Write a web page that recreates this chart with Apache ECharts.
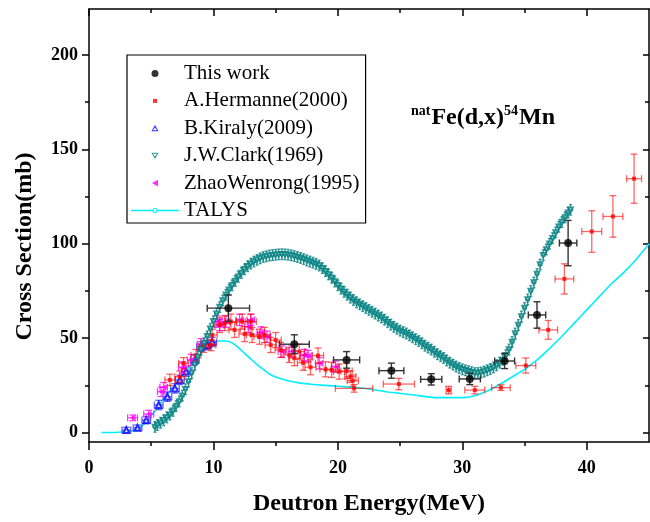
<!DOCTYPE html>
<html><head><meta charset="utf-8">
<script src="https://cdn.jsdelivr.net/npm/echarts@6/dist/echarts.min.js"></script>
<style>html,body{margin:0;padding:0;background:#fff}#c{width:650px;height:522px}</style>
</head><body><div id="c"></div>
<script>
// ---- This work ----
const thisX  = [11.2, 16.5, 20.7, 24.3, 27.5, 30.6, 33.4, 36.0, 38.5];
const thisY  = [65.9, 46.8, 38.5, 32.8, 28.2, 28.4, 37.9, 62.3, 100.4];
const thisXe = [1.7, 1.2, 1.05, 1.0, 0.85, 0.85, 0.8, 0.7, 0.7];
const thisYe = [7, 5, 4.4, 4, 3, 3, 4, 7, 12];
// ---- A.Hermanne(2000) ----
const herX  = [6.5, 7.3, 7.6, 8.6, 9.2, 9.8, 9.9, 10.5, 10.9, 11.4, 11.7, 12.3, 12.5, 13.0, 13.1, 13.7, 14.1, 14.6, 15.0, 15.4, 16.1, 16.5, 16.9, 17.2, 17.8, 18.4, 19.0, 19.5, 20.1, 20.7, 21.0, 21.2, 21.3, 24.9, 28.9, 31.0, 33.1, 35.1, 36.9, 38.2, 40.4, 42.1, 43.8];
const herY  = [27.9, 29.6, 36.7, 41.0, 45.5, 46.4, 51.7, 57.0, 58.0, 58.8, 54.4, 58.8, 52.2, 58.8, 51.7, 50.8, 51.7, 46.4, 49.0, 43.8, 41.1, 39.4, 42.9, 37.0, 34.6, 40.8, 33.5, 33.2, 32.3, 32.6, 29.6, 27.5, 23.4, 25.7, 22.5, 22.5, 23.8, 35.5, 54.4, 81.4, 106.5, 114.5, 134.5];
const herXe = [0.4, 0.4, 0.4, 0.4, 0.4, 0.4, 0.4, 0.45, 0.45, 0.45, 0.45, 0.45, 0.45, 0.45, 0.45, 0.45, 0.45, 0.45, 0.45, 0.45, 0.45, 0.45, 0.45, 0.45, 0.45, 0.45, 0.45, 0.45, 0.45, 0.45, 0.45, 0.45, 1.5, 1.25, 0.2, 0.8, 0.75, 0.8, 0.75, 0.75, 0.8, 0.8, 0.6];
const herYe = [3, 3, 3, 3, 3, 3, 3, 4, 4, 4, 4, 4, 4, 4, 4, 4, 4, 4, 4, 4, 4, 4, 4, 4, 4, 4, 4, 4, 4, 4, 3, 3, 2, 3, 2, 2, 1.5, 4, 5, 8, 11, 11, 13];
// ---- B.Kiraly(2009) ----
const kirX  = [3.0, 3.9, 4.6, 5.6, 6.3, 6.9, 7.3, 7.8, 8.5, 9.0, 9.5, 9.9];
const kirY  = [1.3, 2.5, 6.6, 14.6, 19.0, 23.4, 27.9, 32.3, 38.5, 45.5, 46.4, 48.0];
const kirXe = [0.35, 0.35, 0.35, 0.35, 0.35, 0.35, 0.35, 0.35, 0.35, 0.35, 0.35, 0.35];
const kirYe = [1.5, 1.5, 2, 2.5, 2.5, 2.5, 2.5, 2.5, 2.5, 2.5, 2.5, 2.5];
// ---- J.W.Clark(1969) ----
const clkX = [5.3, 5.5, 5.75, 6.0, 6.25, 6.5, 6.75, 7.0, 7.25, 7.5, 7.75, 8.0, 8.25, 8.5, 8.75, 9.0, 9.25, 9.5, 9.75, 10.0, 10.25, 10.5, 10.75, 11.0, 11.25, 11.5, 11.75, 12.0, 12.25, 12.5, 12.75, 13.0, 13.25, 13.5, 13.75, 14.0, 14.25, 14.5, 14.75, 15.0, 15.25, 15.5, 15.75, 16.0, 16.25, 16.5, 16.75, 17.0, 17.25, 17.5, 17.75, 18.0, 18.25, 18.5, 18.75, 19.0, 19.25, 19.5, 19.75, 20.0, 20.25, 20.5, 20.75, 21.0, 21.25, 21.5, 21.75, 22.0, 22.25, 22.5, 22.75, 23.0, 23.25, 23.5, 23.75, 24.0, 24.25, 24.5, 24.75, 25.0, 25.25, 25.5, 25.75, 26.0, 26.25, 26.5, 26.75, 27.0, 27.25, 27.5, 27.75, 28.0, 28.25, 28.5, 28.75, 29.0, 29.25, 29.5, 29.75, 30.0, 30.25, 30.5, 30.75, 31.0, 31.25, 31.5, 31.75, 32.0, 32.25, 32.5, 32.75, 33.0, 33.25, 33.5, 33.75, 34.0, 34.25, 34.5, 34.75, 35.0, 35.25, 35.5, 35.75, 36.0, 36.25, 36.5, 36.75, 37.0, 37.25, 37.5, 37.75, 38.0, 38.25, 38.5, 38.7];
const clkY = [3.0, 4.0, 5.2, 6.5, 8.0, 9.5, 11.5, 14.0, 16.5, 19.5, 23.0, 27.0, 31.5, 36.0, 40.0, 44.0, 47.5, 51.0, 55.0, 59.0, 63.0, 66.5, 70.0, 73.0, 75.7, 78.0, 80.3, 82.5, 84.6, 86.5, 88.1, 89.5, 90.6, 91.5, 92.3, 93.0, 93.4, 93.8, 94.0, 94.2, 94.4, 94.5, 94.4, 94.2, 93.9, 93.5, 93.0, 92.5, 91.9, 91.2, 90.6, 90.0, 89.3, 88.5, 87.1, 85.5, 83.8, 82.0, 80.0, 78.0, 76.2, 74.5, 73.0, 71.5, 70.2, 69.0, 68.0, 67.0, 66.0, 65.0, 64.0, 63.0, 62.0, 61.0, 59.8, 58.5, 57.2, 56.0, 55.0, 54.0, 53.2, 52.5, 51.5, 50.5, 49.5, 48.5, 47.3, 46.0, 45.0, 44.0, 42.8, 41.5, 40.5, 39.5, 38.2, 37.0, 36.0, 35.0, 34.2, 33.5, 33.0, 32.5, 32.0, 31.5, 31.5, 31.8, 32.3, 33.0, 33.7, 34.5, 35.6, 37.0, 38.5, 41.0, 44.0, 48.0, 52.5, 57.0, 61.5, 66.0, 70.5, 75.0, 79.5, 84.0, 89.0, 94.0, 97.0, 100.0, 103.0, 106.0, 109.0, 111.5, 114.0, 116.5, 118.0];
// ---- ZhaoWenrong(1995) ----
const zhaX  = [3.5, 4.8, 5.8, 6.0, 7.5, 8.2, 9.0, 10.3, 10.5, 11.0, 12.1, 12.8, 13.0, 13.8, 14.3, 15.5, 16.3, 17.3, 17.6, 18.5, 19.8];
const zhaY  = [7.8, 9.8, 21.6, 24.0, 34.5, 38.5, 46.8, 58.8, 57.0, 58.8, 59.7, 56.0, 59.7, 53.0, 50.8, 42.9, 42.9, 41.1, 40.5, 36.7, 34.9];
const zhaXe = [0.4, 0.4, 0.3, 0.3, 0.3, 0.3, 0.3, 0.3, 0.3, 0.3, 0.3, 0.3, 0.3, 0.3, 0.3, 0.3, 0.3, 0.3, 0.3, 0.3, 0.3];
const zhaYe = [1.5, 2, 2.5, 2.5, 3, 3, 3, 3, 3, 3, 3, 3, 3, 3, 3, 3, 3, 3, 3, 3, 3];
// ---- TALYS ----
const talX = [1, 2, 3, 3.5, 4, 4.5, 5, 5.5, 6, 6.5, 7, 7.5, 8, 8.5, 9, 9.5, 10, 10.5, 11, 11.5, 12, 12.5, 13, 13.5, 14, 14.5, 15, 16, 17, 18, 19, 20, 22, 24, 26, 28, 30, 31, 32, 33, 34, 35, 36, 37, 38, 39, 40, 41, 42, 43, 44, 45];
const talY = [0, 0, 0.5, 1, 2.5, 5, 9, 13, 18, 22, 26, 30, 34, 38, 42, 45, 47.5, 48.5, 48.5, 47.5, 45, 42, 39, 36, 33.5, 31, 29.5, 27.5, 26.2, 25.5, 25, 24.5, 23.5, 21.5, 20, 18.5, 18.5, 19.5, 22, 25.5, 29.5, 33.5, 38.5, 44.5, 51, 58, 65, 72, 79, 85, 92, 100];
// ---- ticks ----
const xMajor = [0, 10, 20, 30, 40];
const xMinor = [5, 15, 25, 35];
const yMajor = [0, 50, 100, 150, 200];
const yMinor = [25, 75, 125, 175];

const F = '"Liberation Serif","Times New Roman",serif';
function pack(xs, ys, xe, ye) { return xs.map((x, i) => [x, ys[i], xe[i], ye[i]]); }
function errSeries(name, data, color, cap, lw, z) {
  return {
    type: 'custom', name: name, data: data, z: z, silent: true,
    encode: { x: 0, y: 1 },
    renderItem: function (p, api) {
      const x = api.value(0), y = api.value(1), xe = api.value(2), ye = api.value(3);
      const L = api.coord([x - xe, y]), R = api.coord([x + xe, y]);
      const T = api.coord([x, y + ye]), B = api.coord([x, y - ye]);
      const st = { stroke: color, lineWidth: lw };
      const ch = [];
      if (xe > 0) {
        ch.push({ type: 'line', shape: { x1: L[0], y1: L[1], x2: R[0], y2: R[1] }, style: st });
        ch.push({ type: 'line', shape: { x1: L[0], y1: L[1] - cap, x2: L[0], y2: L[1] + cap }, style: st });
        ch.push({ type: 'line', shape: { x1: R[0], y1: R[1] - cap, x2: R[0], y2: R[1] + cap }, style: st });
      }
      if (ye > 0) {
        ch.push({ type: 'line', shape: { x1: T[0], y1: T[1], x2: B[0], y2: B[1] }, style: st });
        ch.push({ type: 'line', shape: { x1: T[0] - cap, y1: T[1], x2: T[0] + cap, y2: T[1] }, style: st });
        ch.push({ type: 'line', shape: { x1: B[0] - cap, y1: B[1], x2: B[0] + cap, y2: B[1] }, style: st });
      }
      return { type: 'group', children: ch };
    }
  };
}
const axLine = { show: true, onZero: false, lineStyle: { color: '#000', width: 1.5 } };
const noLine = { show: false, onZero: false };
const tick = (vals, len, inside) => ({ show: true, customValues: vals, length: len, inside: inside, lineStyle: { color: '#000', width: 1.5 } });
const lblStyle = { fontFamily: F, fontWeight: 'bold', fontSize: 18, color: '#000' };
const XMIN = 0, XMAX = 45, YMIN = -5, YMAX = 224.4;
function xAx(pos, line, tk, label, extra) {
  return Object.assign({ type: 'value', position: pos, min: XMIN, max: XMAX, axisLine: line, axisTick: tk,
    axisLabel: label || { show: false }, splitLine: { show: false }, minorTick: { show: false } }, extra || {});
}
function yAx(pos, line, tk, label, extra) {
  return Object.assign({ type: 'value', position: pos, min: YMIN, max: YMAX, axisLine: line, axisTick: tk,
    axisLabel: label || { show: false }, splitLine: { show: false }, minorTick: { show: false } }, extra || {});
}

const option = {
  animation: false,
  backgroundColor: '#fff',
  grid: { left: 89, right: 1, top: 9, bottom: 80, containLabel: false },
  xAxis: [
    xAx('bottom', axLine, tick(xMajor, 8, false),
      Object.assign({ customValues: xMajor, margin: 17 }, lblStyle),
      { name: 'Deutron Energy(MeV)', nameLocation: 'middle', nameGap: 50,
        nameTextStyle: { fontFamily: F, fontWeight: 'bold', fontSize: 24, color: '#000' } }),
    xAx('bottom', noLine, tick(xMinor, 4, false)),
    xAx('top', axLine, tick(xMajor, 7, true)),
    xAx('top', noLine, tick(xMinor, 4, true))
  ],
  yAxis: [
    yAx('left', axLine, tick(yMajor, 7, false),
      Object.assign({ customValues: yMajor, margin: 11 }, lblStyle),
      { name: 'Cross Section(mb)', nameLocation: 'middle', nameGap: 52, nameRotate: 90,
        nameTextStyle: { fontFamily: F, fontWeight: 'bold', fontSize: 24, color: '#000', padding: [0, 42, 0, 0] } }),
    yAx('left', noLine, tick(yMinor, 4, false)),
    yAx('right', axLine, tick(yMajor, 6, true)),
    yAx('right', noLine, tick(yMinor, 4, true))
  ],
  legend: {
    left: 127, top: 55, orient: 'vertical', padding: [8, 6, 2, 4], itemGap: 6.4,
    itemWidth: 48, itemHeight: 20, borderColor: '#000', borderWidth: 1.2, selectedMode: false,
    textStyle: { fontFamily: F, fontSize: 21, color: '#000', lineHeight: 20 },
    itemStyle: { borderWidth: 0 },
    data: [
      { name: 'This work', icon: 'path://M0,0 M48,20 M20.5,10 A3.5,3.5 0 1,0 27.5,10 A3.5,3.5 0 1,0 20.5,10 Z' },
      { name: 'A.Hermanne(2000)', icon: 'path://M0,0 M48,20 M22,8 L26,8 L26,12 L22,12 Z' },
      { name: 'B.Kiraly(2009)', icon: 'path://M0,0 M48,20 M24,6.8 L27.6,13 L20.4,13 Z M24,9.2 L21.9,12 L26.1,12 Z' },
      { name: 'J.W.Clark(1969)', icon: 'path://M0,0 M48,20 M20.4,7 L27.6,7 L24,13.2 Z M21.9,8 L24,10.8 L26.1,8 Z' },
      { name: 'ZhaoWenrong(1995)', icon: 'path://M0,0 M48,20 M21,10 L27,6.6 L27,13.4 Z' },
      { name: 'TALYS', icon: 'path://M0,0 M48,20 M0,9.3 L21.6,9.3 L21.6,10.7 L0,10.7 Z M26.4,9.3 L48,9.3 L48,10.7 L26.4,10.7 Z M21.5,10 A2.5,2.5 0 1,1 26.5,10 A2.5,2.5 0 1,1 21.5,10 Z M22.6,10 A1.4,1.4 0 1,0 25.4,10 A1.4,1.4 0 1,0 22.6,10 Z' }
    ]
  },
  graphic: [{
    type: 'text', left: 411, top: 104, z: 10,
    style: {
      text: '{s|nat}{m|Fe(d,x)}{s|54}{m|Mn}',
      rich: {
        s: { fontFamily: F, fontWeight: 'bold', fontSize: 14, color: '#000', verticalAlign: 'top', lineHeight: 28, padding: [0, 1, 13, 0] },
        m: { fontFamily: F, fontWeight: 'bold', fontSize: 24, color: '#000', lineHeight: 28 }
      }
    }
  }],
  series: [
    { type: 'line', name: 'TALYS', data: talX.map((x, i) => [x, talY[i]]), smooth: 0.3,
      symbol: 'emptyCircle', symbolSize: 4, showSymbol: false, z: 1,
      lineStyle: { color: '#00eeff', width: 1.6 }, itemStyle: { color: '#00eeff' } },
    errSeries('Kiraly err', pack(kirX, kirY, kirXe, kirYe), 'rgba(40,40,255,0.75)', 3.5, 1.2, 2),
    { type: 'scatter', name: 'B.Kiraly(2009)', data: kirX.map((x, i) => [x, kirY[i]]), z: 3,
      symbol: 'emptyTriangle', symbolSize: 6, itemStyle: { color: '#0000ff', borderColor: '#0000ff', borderWidth: 1 } },
    errSeries('Zhao err', pack(zhaX, zhaY, zhaXe, zhaYe), 'rgba(255,0,255,0.8)', 3.5, 1.2, 4),
    { type: 'scatter', name: 'ZhaoWenrong(1995)', data: zhaX.map((x, i) => [x, zhaY[i]]), z: 5,
      symbol: 'triangle', symbolRotate: 90, symbolSize: 6, itemStyle: { color: '#ff00ff' } },
    errSeries('Hermanne err', pack(herX, herY, herXe, herYe), 'rgba(255,0,0,0.6)', 3.5, 1.3, 6),
    { type: 'scatter', name: 'A.Hermanne(2000)', data: herX.map((x, i) => [x, herY[i]]), z: 7,
      symbol: 'rect', symbolSize: 4, itemStyle: { color: '#ff0000' } },
    errSeries('Clark err', pack(clkX, clkY, clkX.map(() => 0.14), clkY.map(() => 2.8)), 'rgba(0,128,128,0.75)', 1.5, 1.4, 8),
    { type: 'scatter', name: 'J.W.Clark(1969)', data: clkX.map((x, i) => [x, clkY[i]]), z: 9,
      symbol: 'emptyTriangle', symbolRotate: 180, symbolSize: 4.5, itemStyle: { color: '#008080', borderColor: '#008080', borderWidth: 1.2 } },
    errSeries('This work err', pack(thisX, thisY, thisXe, thisYe), '#333', 3.5, 1.4, 10),
    { type: 'scatter', name: 'This work', data: thisX.map((x, i) => [x, thisY[i]]), z: 11,
      symbol: 'circle', symbolSize: 8, itemStyle: { color: '#000' } }
  ]
};
const chart = echarts.init(document.getElementById('c'), null, { renderer: 'canvas' });
chart.setOption(option);
</script></body></html>
